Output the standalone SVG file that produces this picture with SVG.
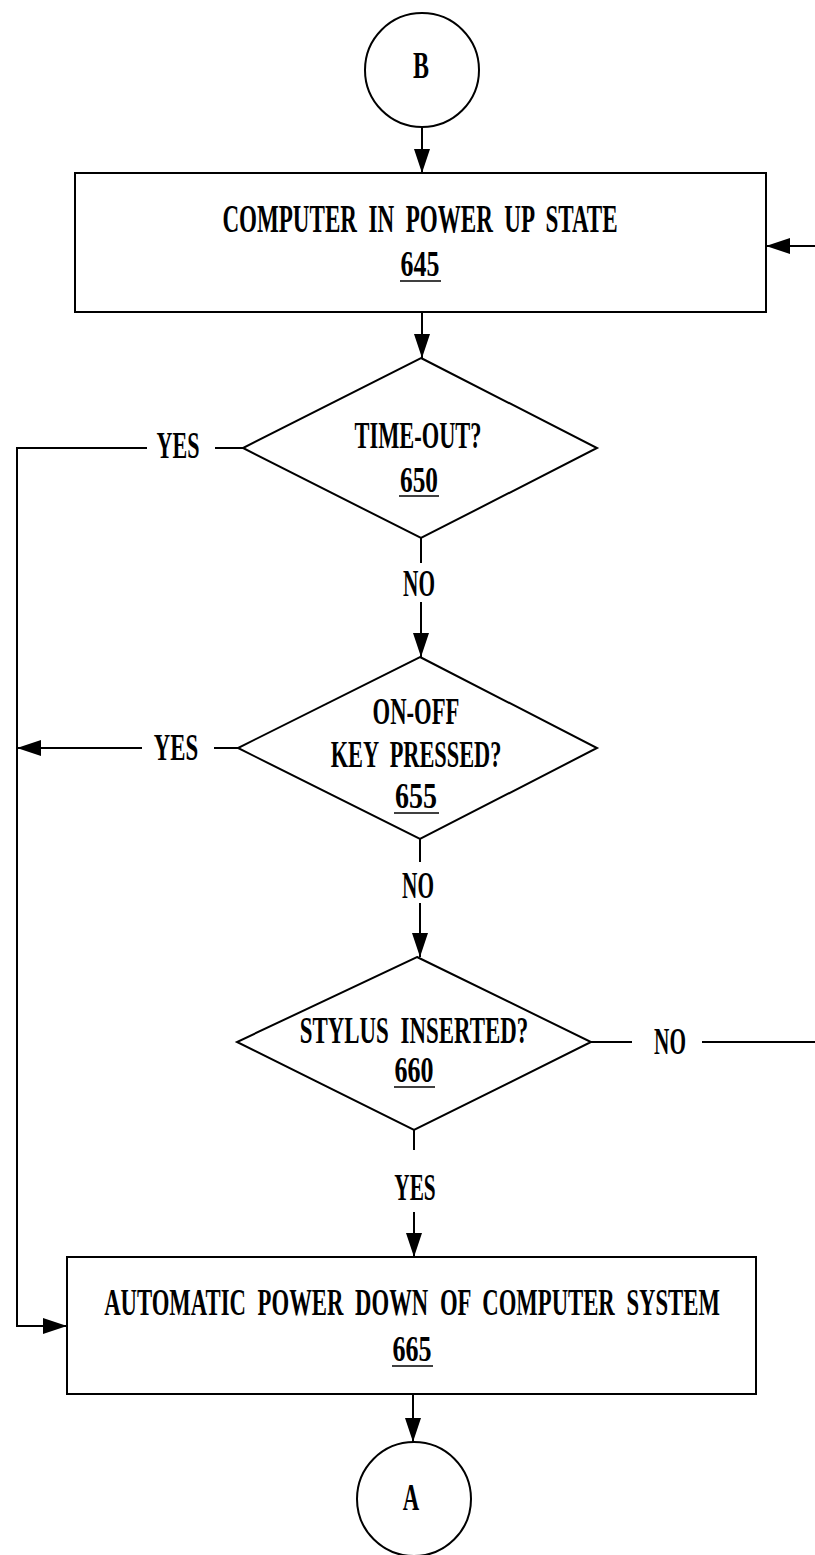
<svg xmlns="http://www.w3.org/2000/svg" width="815" height="1555" viewBox="0 0 815 1555">
<style>
.s{fill:none;stroke:#000;stroke-width:2}
.t{font-family:"Liberation Serif","DejaVu Serif",serif;font-weight:bold;font-size:38px;fill:#000;text-anchor:middle;word-spacing:10px}
.n{font-size:35px}
.u{stroke:#000;stroke-width:1.6}
</style>
<defs>
<marker id="ah" markerUnits="userSpaceOnUse" markerWidth="26" markerHeight="18" refX="24" refY="8" orient="auto">
<path d="M0,0 L24,8 L0,16 Z" fill="#000"/>
</marker>
</defs>
<rect width="815" height="1555" fill="#fff"/>
<g id="connectors">
<line class="s" x1="422" y1="127" x2="422" y2="173" marker-end="url(#ah)"/>
<line class="s" x1="815" y1="246" x2="766" y2="246" marker-end="url(#ah)"/>
<line class="s" x1="422" y1="312" x2="422" y2="358" marker-end="url(#ah)"/>
<line class="s" x1="243" y1="448" x2="215" y2="448"/>
<polyline class="s" points="147,448 17,448 17,1326 67,1326" marker-end="url(#ah)"/>
<line class="s" x1="421" y1="538" x2="421" y2="563"/>
<line class="s" x1="421" y1="602" x2="421" y2="657" marker-end="url(#ah)"/>
<line class="s" x1="238" y1="748" x2="214" y2="748"/>
<line class="s" x1="142" y1="748" x2="17" y2="748" marker-end="url(#ah)"/>
<line class="s" x1="420" y1="839" x2="420" y2="862"/>
<line class="s" x1="420" y1="903" x2="420" y2="957" marker-end="url(#ah)"/>
<line class="s" x1="591" y1="1042" x2="632" y2="1042"/>
<line class="s" x1="702" y1="1042" x2="815" y2="1042"/>
<line class="s" x1="414" y1="1130" x2="414" y2="1150"/>
<line class="s" x1="414" y1="1212" x2="414" y2="1257" marker-end="url(#ah)"/>
<line class="s" x1="413" y1="1394" x2="413" y2="1442" marker-end="url(#ah)"/>
<text class="t" transform="translate(178 458) scale(0.58 1)">YES</text>
<text class="t" transform="translate(419 596) scale(0.56 1)">NO</text>
<text class="t" transform="translate(176 760) scale(0.6 1)">YES</text>
<text class="t" transform="translate(418 898) scale(0.56 1)">NO</text>
<text class="t" transform="translate(670 1054) scale(0.56 1)">NO</text>
<text class="t" transform="translate(415 1200) scale(0.56 1)">YES</text>
</g>
<g id="nodeB">
<circle class="s" cx="422" cy="70" r="57"/>
<text class="t" transform="translate(421 78) scale(0.63 1)">B</text>
</g>
<g id="node645">
<rect class="s" x="75" y="173" width="691" height="139"/>
<text class="t" style="font-size:40px" transform="translate(420 232) scale(0.577 1)">COMPUTER IN POWER UP STATE</text>
<text class="t n" transform="translate(420 276) scale(0.74 1)">645</text>
<line class="u" x1="400" y1="281" x2="441" y2="281"/>
</g>
<g id="node650">
<polygon class="s" points="421,358 597,448 421,538 243,448"/>
<text class="t" transform="translate(418 448) scale(0.59 1)">TIME-OUT?</text>
<text class="t n" transform="translate(419 492) scale(0.724 1)">650</text>
<line class="u" x1="399" y1="496" x2="439" y2="496"/>
</g>
<g id="node655">
<polygon class="s" points="420,657 597,748 420,839 238,748"/>
<text class="t" transform="translate(416 724) scale(0.597 1)">ON-OFF</text>
<text class="t" transform="translate(416 767) scale(0.588 1)">KEY PRESSED?</text>
<text class="t n" transform="translate(416 808) scale(0.8 1)">655</text>
<line class="u" x1="394" y1="813" x2="439" y2="813"/>
</g>
<g id="node660">
<polygon class="s" points="417,957 591,1042 414,1130 237,1042"/>
<text class="t" transform="translate(414 1043) scale(0.602 1)">STYLUS INSERTED?</text>
<text class="t n" transform="translate(414 1082) scale(0.743 1)">660</text>
<line class="u" x1="394" y1="1087" x2="435" y2="1087"/>
</g>
<g id="node665">
<rect class="s" x="67" y="1257" width="689" height="137"/>
<text class="t" transform="translate(412 1315) scale(0.598 1)">AUTOMATIC POWER DOWN OF COMPUTER SYSTEM</text>
<text class="t n" transform="translate(412 1361) scale(0.743 1)">665</text>
<line class="u" x1="392" y1="1366" x2="433" y2="1366"/>
</g>
<g id="nodeA">
<circle class="s" cx="414" cy="1499" r="57"/>
<text class="t" transform="translate(411 1510) scale(0.6 1)">A</text>
</g>
</svg>
